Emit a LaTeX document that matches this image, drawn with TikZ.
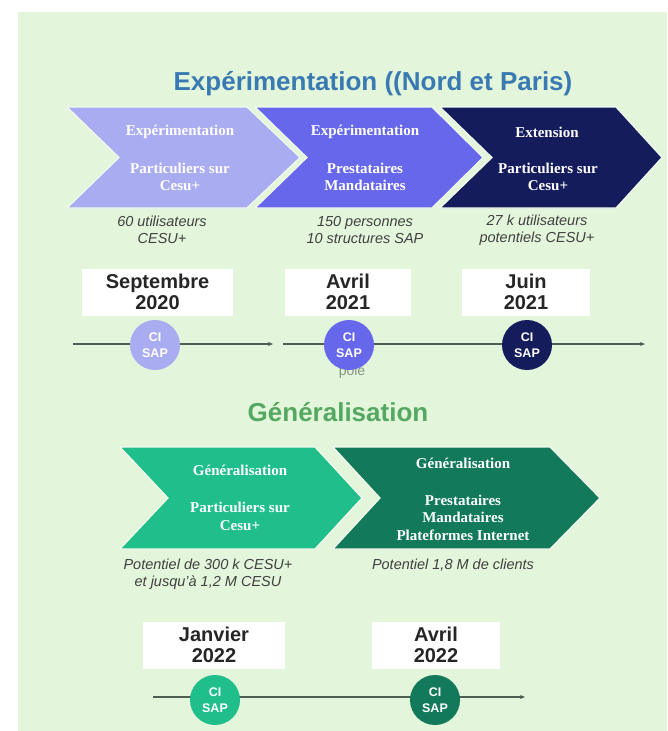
\documentclass[tikz,border=0pt]{standalone}
\usepackage{fontspec}
\setmainfont{Liberation Sans}
\newfontfamily\timesfont{Liberation Serif}
\usepackage{xcolor}
\usetikzlibrary{arrows.meta}
\definecolor{fond}{HTML}{E3F5DA}
\definecolor{bleutitre}{HTML}{3A7AB2}
\definecolor{verttitre}{HTML}{55A862}
\definecolor{lavande}{HTML}{AAACF2}
\definecolor{violet}{HTML}{6767EC}
\definecolor{marine}{HTML}{141C5C}
\definecolor{turquoise}{HTML}{20BE8B}
\definecolor{vertfonce}{HTML}{12795B}
\definecolor{trait}{HTML}{4E5E52}
\tikzstyle{titre} = [font=\bfseries\fontsize{26}{30}\selectfont]
\tikzstyle{fleche} = [draw=white!55!fond, line width=1.2pt]
\tikzstyle{etape} = [text=white, align=center,
    font=\timesfont\bfseries\fontsize{15}{17.5}\selectfont]
\tikzstyle{chiffre} = [text=black!75, align=center,
    font=\itshape\fontsize{14.5}{16.5}\selectfont]
\tikzstyle{datebox} = [fill=white, minimum height=47pt, align=center,
    text=black!85, font=\bfseries\fontsize{20}{21}\selectfont]
\tikzstyle{jalon} = [circle, minimum size=50pt, inner sep=0pt, text=white,
    align=center, font=\bfseries\fontsize{12.5}{16}\selectfont]
\tikzstyle{frise} = [draw=trait, line width=1.1pt, -{Stealth[length=5pt,width=4pt]}]

\begin{document}
\begin{tikzpicture}[x=1pt, y=-1pt]
    \useasboundingbox (0,0) rectangle (667,731);
    \fill[white] (0,0) rectangle (667,731);
    \fill[fond] (18,12) rectangle (667,731);

    \node[titre, text=bleutitre] (titre1) at (373,84) {Expérimentation ((Nord et Paris)};

    \filldraw[fleche, fill=lavande] (67,107) -- (247,107) -- (300,157.5) -- (247,208) -- (67,208) -- (119,157.5) -- cycle;
    \filldraw[fleche, fill=violet] (255,107) -- (432,107) -- (483,157.5) -- (432,208) -- (255,208) -- (307,157.5) -- cycle;
    \filldraw[fleche, fill=marine] (440,107) -- (616,107) -- (662,157.5) -- (616,208) -- (440,208) -- (492,157.5) -- cycle;

    \node[etape] (exp1) at (180,132) {Expérimentation};
    \node[etape] (part1) at (180,177) {Particuliers sur\\Cesu+};
    \node[etape] (exp2) at (365,132) {Expérimentation};
    \node[etape] (prest1) at (365,177) {Prestataires\\Mandataires};
    \node[etape] (ext) at (547,132) {Extension};
    \node[etape] (part2) at (548,177) {Particuliers sur\\Cesu+};

    \node[chiffre] (util1) at (162,230) {60 utilisateurs\\CESU+};
    \node[chiffre] (pers) at (365,230) {150 personnes\\10 structures SAP};
    \node[chiffre] (util2) at (537,230) {27 k utilisateurs\\potentiels CESU+};

    \node[datebox, minimum width=151pt] (sept) at (157.5,292) {Septembre\\2020};
    \node[datebox, minimum width=126pt] (avr1) at (348,292) {Avril\\2021};
    \node[datebox, minimum width=128pt] (juin) at (526,292) {Juin\\2021};

    \coordinate (a1) at (73,344);
    \coordinate (b1) at (273,344);
    \coordinate (a2) at (283,344);
    \coordinate (b2) at (645,344);
    \draw[frise] (a1) -- (b1);
    \draw[frise] (a2) -- (b2);

    \node[text=black!40!fond, font=\fontsize{14}{16}\selectfont] (pole) at (352,372) {pole};

    \node[jalon, fill=lavande] (ci1) at (155,345) {CI\\SAP};
    \node[jalon, fill=violet] (ci2) at (349,345) {CI\\SAP};
    \node[jalon, fill=marine] (ci3) at (527,345) {CI\\SAP};

    \node[titre, text=verttitre] (titre2) at (338,412) {Généralisation};

    \filldraw[fleche, fill=turquoise] (120,447) -- (315,447) -- (362,498) -- (315,549) -- (120,549) -- (168,498) -- cycle;
    \filldraw[fleche, fill=vertfonce] (333,447) -- (550,447) -- (600,498) -- (550,549) -- (333,549) -- (380,498) -- cycle;

    \node[etape] (gen1) at (240,470) {Généralisation};
    \node[etape] (part3) at (240,516.5) {Particuliers sur\\Cesu+};
    \node[etape] (gen2) at (463,463) {Généralisation};
    \node[etape] (prest2) at (463,517.5) {Prestataires\\Mandataires\\Plateformes Internet};

    \node[chiffre] (pot1) at (208,574) {Potentiel de 300 k CESU+\\et jusqu'à 1,2 M CESU};
    \node[chiffre] (pot2) at (453,565) {Potentiel 1,8 M de clients};

    \node[datebox, minimum width=142pt] (janv) at (214,645) {Janvier\\2022};
    \node[datebox, minimum width=128pt] (avr2) at (436,645) {Avril\\2022};

    \coordinate (a3) at (153,697);
    \coordinate (b3) at (525,697);
    \draw[frise] (a3) -- (b3);

    \node[jalon, fill=turquoise] (ci4) at (215,700) {CI\\SAP};
    \node[jalon, fill=vertfonce] (ci5) at (435,700) {CI\\SAP};
\end{tikzpicture}
\end{document}
